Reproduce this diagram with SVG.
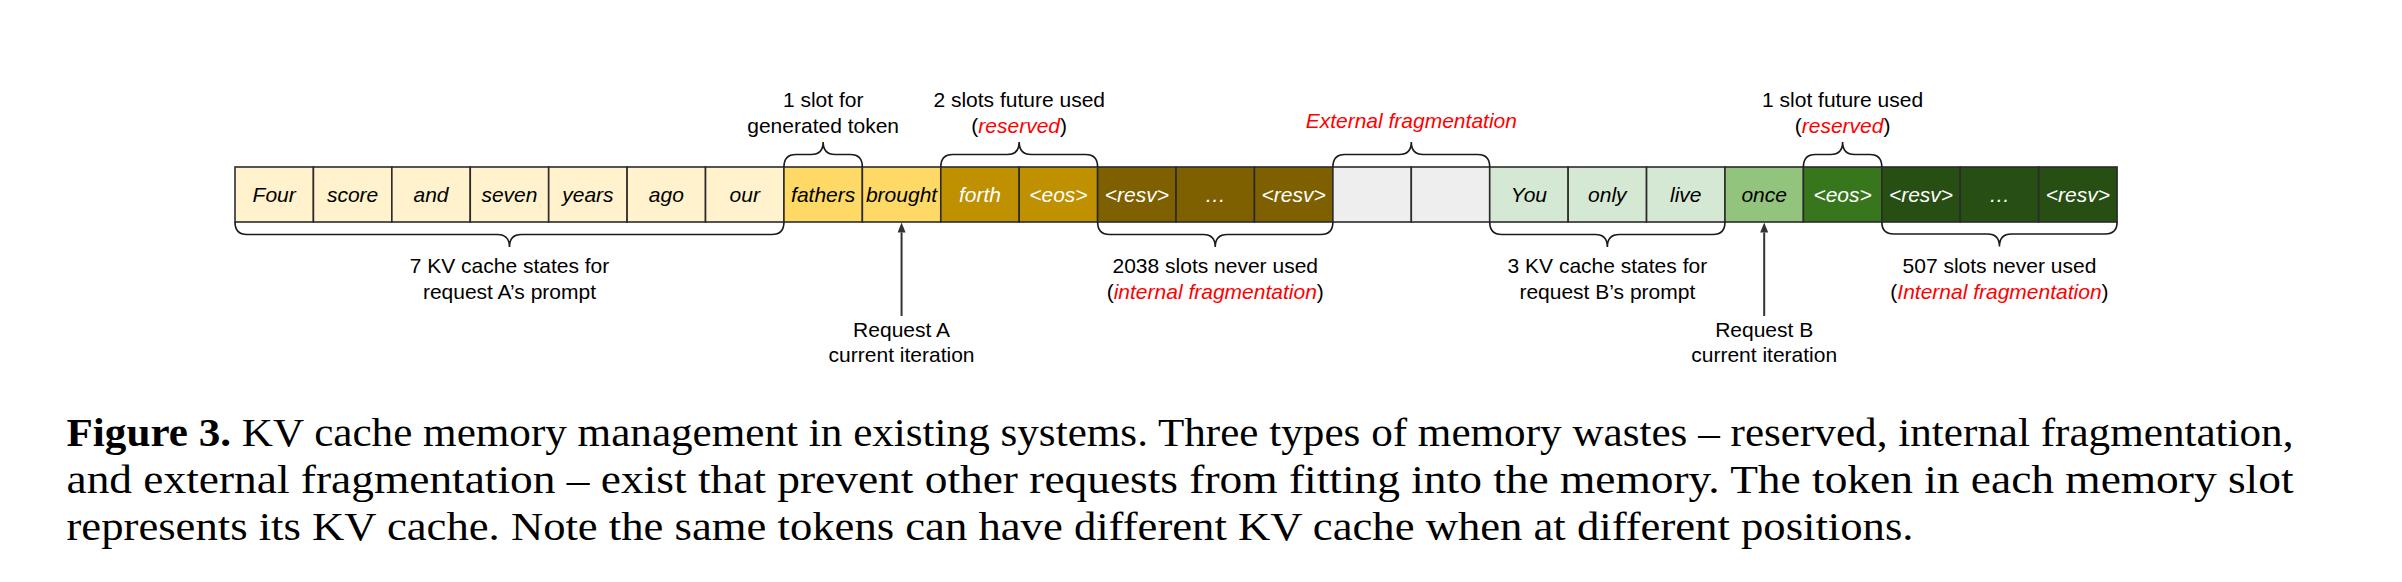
<svg xmlns="http://www.w3.org/2000/svg" width="2402" height="582" viewBox="0 0 2402 582">
<style>
.cell{stroke:#2b2b2b;stroke-width:1.6}
.ct{font-family:"Liberation Sans",Arial,sans-serif;font-size:21px;font-style:italic;text-anchor:middle;fill:#000}
.dk{fill:#fff}
.lb{font-family:"Liberation Sans",Arial,sans-serif;font-size:21px;text-anchor:middle;fill:#000}
.red{fill:#ff0000;font-style:italic}
.brace{fill:none;stroke:#1a1a1a;stroke-width:1.6}
.arrow{stroke:#333;stroke-width:2;fill:none;marker-end:url(#ah)}
.cap{font-family:"Liberation Serif","Times New Roman",serif;font-size:41px;fill:#000}
.c1{fill:#fff2cc}.c2{fill:#ffd966}.c3{fill:#bf9000}.c4{fill:#7f6000}.c5{fill:#eeeeee}
.g1{fill:#d5e8d4}.g2{fill:#93c47d}.g3{fill:#38761d}.g4{fill:#274e13}
</style>
<defs>
<marker id="ah" viewBox="0 0 10 8" refX="0" refY="4" markerWidth="10" markerHeight="8" markerUnits="userSpaceOnUse" orient="auto"><path d="M0,0 L10,4 L0,8 z" fill="#333"/></marker>
</defs>
<rect width="2402" height="582" fill="#fff"/>

<g id="cell-four"><rect class="cell c1" x="235" y="167" width="78.42" height="55"/><text class="ct" x="274.21" y="201.5">Four</text></g>
<g id="cell-score"><rect class="cell c1" x="313.42" y="167" width="78.42" height="55"/><text class="ct" x="352.63" y="201.5">score</text></g>
<g id="cell-and"><rect class="cell c1" x="391.84" y="167" width="78.42" height="55"/><text class="ct" x="431.05" y="201.5">and</text></g>
<g id="cell-seven"><rect class="cell c1" x="470.26" y="167" width="78.42" height="55"/><text class="ct" x="509.47" y="201.5">seven</text></g>
<g id="cell-years"><rect class="cell c1" x="548.68" y="167" width="78.42" height="55"/><text class="ct" x="587.89" y="201.5">years</text></g>
<g id="cell-ago"><rect class="cell c1" x="627.1" y="167" width="78.42" height="55"/><text class="ct" x="666.31" y="201.5">ago</text></g>
<g id="cell-our"><rect class="cell c1" x="705.52" y="167" width="78.42" height="55"/><text class="ct" x="744.73" y="201.5">our</text></g>
<g id="cell-fathers"><rect class="cell c2" x="783.94" y="167" width="78.42" height="55"/><text class="ct" x="823.15" y="201.5">fathers</text></g>
<g id="cell-brought"><rect class="cell c2" x="862.36" y="167" width="78.42" height="55"/><text class="ct" x="901.57" y="201.5">brought</text></g>
<g id="cell-forth"><rect class="cell c3" x="940.78" y="167" width="78.42" height="55"/><text class="ct dk" x="979.99" y="201.5">forth</text></g>
<g id="cell-eos-a"><rect class="cell c3" x="1019.2" y="167" width="78.42" height="55"/><text class="ct dk" x="1058.41" y="201.5">&lt;eos&gt;</text></g>
<g id="cell-resv-a1"><rect class="cell c4" x="1097.62" y="167" width="78.42" height="55"/><text class="ct dk" x="1136.83" y="201.5">&lt;resv&gt;</text></g>
<g id="cell-dots-a"><rect class="cell c4" x="1176.04" y="167" width="78.42" height="55"/><text class="ct dk" x="1215.25" y="201.5">…</text></g>
<g id="cell-resv-a2"><rect class="cell c4" x="1254.46" y="167" width="78.42" height="55"/><text class="ct dk" x="1293.67" y="201.5">&lt;resv&gt;</text></g>
<g id="cell-free-1"><rect class="cell c5" x="1332.88" y="167" width="78.42" height="55"/></g>
<g id="cell-free-2"><rect class="cell c5" x="1411.3" y="167" width="78.42" height="55"/></g>
<g id="cell-you"><rect class="cell g1" x="1489.72" y="167" width="78.42" height="55"/><text class="ct" x="1528.93" y="201.5">You</text></g>
<g id="cell-only"><rect class="cell g1" x="1568.14" y="167" width="78.42" height="55"/><text class="ct" x="1607.35" y="201.5">only</text></g>
<g id="cell-live"><rect class="cell g1" x="1646.56" y="167" width="78.42" height="55"/><text class="ct" x="1685.77" y="201.5">live</text></g>
<g id="cell-once"><rect class="cell g2" x="1724.98" y="167" width="78.42" height="55"/><text class="ct" x="1764.19" y="201.5">once</text></g>
<g id="cell-eos-b"><rect class="cell g3" x="1803.4" y="167" width="78.42" height="55"/><text class="ct dk" x="1842.61" y="201.5">&lt;eos&gt;</text></g>
<g id="cell-resv-b1"><rect class="cell g4" x="1881.82" y="167" width="78.42" height="55"/><text class="ct dk" x="1921.03" y="201.5">&lt;resv&gt;</text></g>
<g id="cell-dots-b"><rect class="cell g4" x="1960.24" y="167" width="78.42" height="55"/><text class="ct dk" x="1999.45" y="201.5">…</text></g>
<g id="cell-resv-b2"><rect class="cell g4" x="2038.66" y="167" width="78.42" height="55"/><text class="ct dk" x="2077.87" y="201.5">&lt;resv&gt;</text></g>

<g id="brace-prompt-a"><path class="brace" d="M235,222 Q235,234.5 247,234.5 L497.47,234.5 Q509.47,234.5 509.47,247 Q509.47,234.5 521.47,234.5 L771.94,234.5 Q783.94,234.5 783.94,222"/><text class="lb" x="509.47" y="273">7 KV cache states for</text><text class="lb" x="509.47" y="298.5">request A’s prompt</text></g>
<g id="brace-generated"><path class="brace" d="M783.94,167 Q783.94,154.5 795.94,154.5 L811.15,154.5 Q823.15,154.5 823.15,142 Q823.15,154.5 835.15,154.5 L850.36,154.5 Q862.36,154.5 862.36,167"/><text class="lb" x="823.15" y="106.5">1 slot for</text><text class="lb" x="823.15" y="132.5">generated token</text></g>
<g id="brace-reserved-a"><path class="brace" d="M940.78,167 Q940.78,154.5 952.78,154.5 L1007.2,154.5 Q1019.2,154.5 1019.2,142 Q1019.2,154.5 1031.2,154.5 L1085.62,154.5 Q1097.62,154.5 1097.62,167"/><text class="lb" x="1019.2" y="106.5">2 slots future used</text><text class="lb" x="1019.2" y="132.5">(<tspan class="red">reserved</tspan>)</text></g>
<g id="brace-internal-a"><path class="brace" d="M1097.62,222 Q1097.62,234.5 1109.62,234.5 L1203.25,234.5 Q1215.25,234.5 1215.25,247 Q1215.25,234.5 1227.25,234.5 L1320.88,234.5 Q1332.88,234.5 1332.88,222"/><text class="lb" x="1215.25" y="273">2038 slots never used</text><text class="lb" x="1215.25" y="298.5">(<tspan class="red">internal fragmentation</tspan>)</text></g>
<g id="brace-external"><path class="brace" d="M1332.88,167 Q1332.88,154.5 1344.88,154.5 L1399.3,154.5 Q1411.3,154.5 1411.3,142 Q1411.3,154.5 1423.3,154.5 L1477.72,154.5 Q1489.72,154.5 1489.72,167"/><text class="lb red" x="1411.3" y="128">External fragmentation</text></g>
<g id="brace-prompt-b"><path class="brace" d="M1489.72,222 Q1489.72,234.5 1501.72,234.5 L1595.35,234.5 Q1607.35,234.5 1607.35,247 Q1607.35,234.5 1619.35,234.5 L1712.98,234.5 Q1724.98,234.5 1724.98,222"/><text class="lb" x="1607.35" y="273">3 KV cache states for</text><text class="lb" x="1607.35" y="298.5">request B’s prompt</text></g>
<g id="brace-reserved-b"><path class="brace" d="M1803.4,167 Q1803.4,154.5 1815.4,154.5 L1830.61,154.5 Q1842.61,154.5 1842.61,142 Q1842.61,154.5 1854.61,154.5 L1869.82,154.5 Q1881.82,154.5 1881.82,167"/><text class="lb" x="1842.61" y="106.5">1 slot future used</text><text class="lb" x="1842.61" y="132.5">(<tspan class="red">reserved</tspan>)</text></g>
<g id="brace-internal-b"><path class="brace" d="M1881.82,222 Q1881.82,234 1893.82,234 L1987.45,234 Q1999.45,234 1999.45,246.5 Q1999.45,234 2011.45,234 L2105.08,234 Q2117.08,234 2117.08,222"/><text class="lb" x="1999.45" y="273">507 slots never used</text><text class="lb" x="1999.45" y="298.5">(<tspan class="red">Internal fragmentation</tspan>)</text></g>

<g id="label-request-a"><text class="lb" x="901.57" y="337">Request A</text><text class="lb" x="901.57" y="362">current iteration</text></g>
<g id="label-request-b"><text class="lb" x="1764.19" y="337">Request B</text><text class="lb" x="1764.19" y="362">current iteration</text></g>

<g id="connectors">
<line class="arrow" x1="901.57" y1="316" x2="901.57" y2="232.5"/>
<line class="arrow" x1="1764.19" y1="316" x2="1764.19" y2="232.5"/>
</g>

<g id="caption">
<text class="cap" x="66.5" y="446" textLength="2227" lengthAdjust="spacingAndGlyphs"><tspan font-weight="bold">Figure 3.</tspan> KV cache memory management in existing systems. Three types of memory wastes – reserved, internal fragmentation,</text>
<text class="cap" x="66.5" y="493" textLength="2227" lengthAdjust="spacingAndGlyphs">and external fragmentation – exist that prevent other requests from fitting into the memory. The token in each memory slot</text>
<text class="cap" x="66.5" y="540" textLength="1847" lengthAdjust="spacingAndGlyphs">represents its KV cache. Note the same tokens can have different KV cache when at different positions.</text>
</g>
</svg>
